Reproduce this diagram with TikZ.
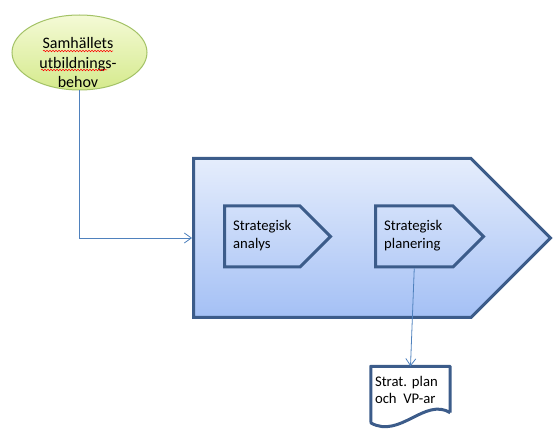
\documentclass[tikz,border=0pt]{standalone}
\usepackage{fontspec}
\setmainfont{Carlito}
\usetikzlibrary{shapes.symbols,shapes.geometric,arrows.meta,decorations.pathmorphing}
\definecolor{frame}{RGB}{60,92,138}
\definecolor{flowtop}{RGB}{229,237,252}
\definecolor{flowbot}{RGB}{164,192,245}
\definecolor{ovaltop}{RGB}{244,250,214}
\definecolor{ovalbot}{RGB}{213,234,140}
\definecolor{ovalline}{RGB}{163,194,102}
\definecolor{link}{RGB}{79,129,189}
\frenchspacing
\begin{document}
\begin{tikzpicture}[>={Straight Barb[length=7pt,width=10pt]},x=1pt,y=1pt,
	chevron/.style={draw=frame,line width=3pt,signal,signal to=east,signal pointer angle=90,anchor=west,inner sep=0pt},
	lbl/.style={font=\fontsize{14.7}{18}\selectfont,align=left,anchor=west,inner sep=0pt},
	conn/.style={draw=link,line width=0.8pt},
	wavy/.style={red,line width=0.5pt,decorate,decoration={snake,amplitude=0.8pt,segment length=3pt}}]
	\useasboundingbox (0,0) rectangle (560,437);
	\node[ellipse,draw=ovalline,line width=1pt,top color=ovaltop,bottom color=ovalbot,minimum width=135pt,minimum height=75pt] (oval) at (79.5,384.5) {};
	\node[font=\fontsize{16}{19.5}\selectfont,align=center,inner sep=0pt] (oval-t) at (78,374) {Samh\"allets\\utbildnings-\\behov};
	\draw[wavy] (43,386) -- (113,386);
	\draw[wavy] (41,367) -- (107,367);
	\node[chevron,top color=flowtop,bottom color=flowbot,minimum width=357pt,minimum height=159pt] (flow) at (192,199) {};
	\node[chevron,minimum width=106pt,minimum height=61pt] (sa) at (223,200.5) {};
	\node[chevron,minimum width=108pt,minimum height=61pt] (sp) at (374,200.5) {};
	\node[lbl] (sa-t) at (233,201) {Strategisk\\analys};
	\node[lbl] (sp-t) at (384,201) {Strategisk\\planering};
	\node[font=\fontsize{14.7}{17}\selectfont,align=left,text width=71pt,inner xsep=4pt,inner ysep=0pt,minimum height=46pt] (doc) at (410.5,47.5) {Strat.\ plan\\och\hspace{0.45em}VP-ar};
	\draw[draw=frame,line width=3pt,line join=round] (doc.south east) -- (doc.north east) -- (doc.north west) -- (371,14) .. controls (400,-2) and (425,40) .. (doc.south east);
	\draw[conn,->] (oval.south) |- (flow.west);
	\draw[conn,->] (sp.south) -- (doc.north);
\end{tikzpicture}
\end{document}
